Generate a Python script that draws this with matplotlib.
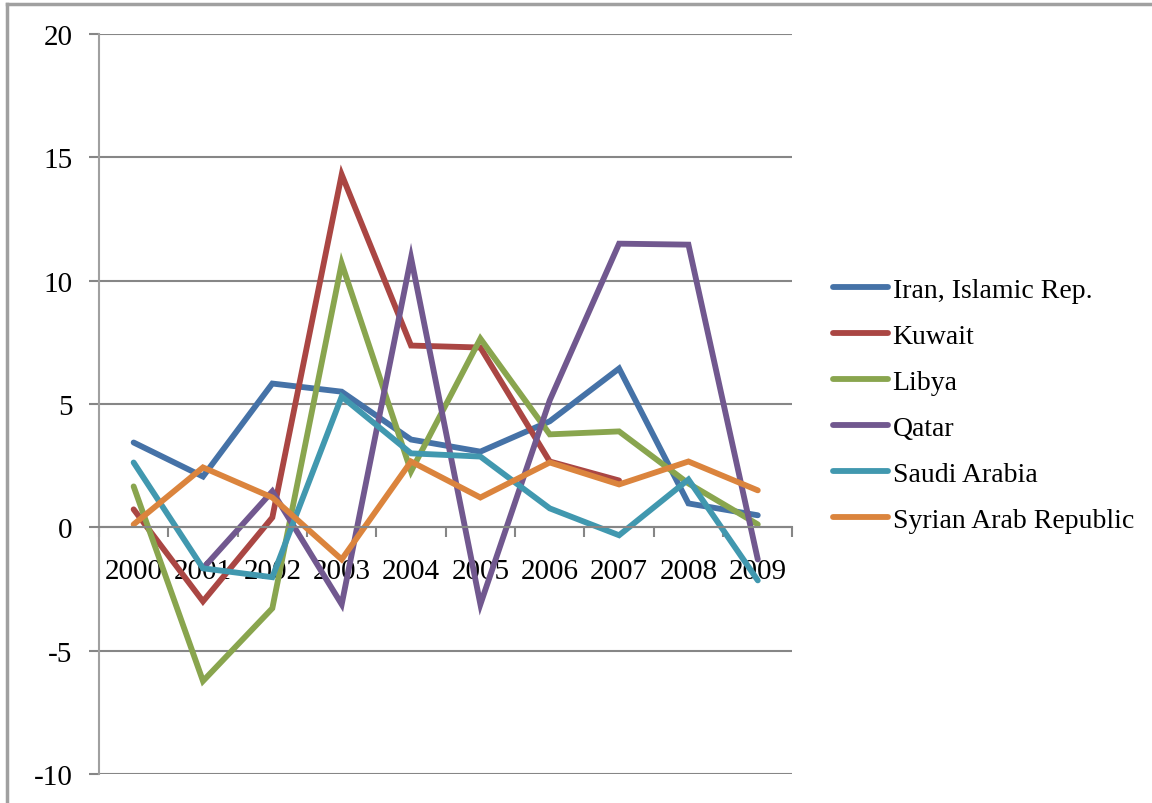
import numpy as np
import matplotlib
matplotlib.use('Agg')
import matplotlib.pyplot as plt
from matplotlib.lines import Line2D

years = ['2000', '2001', '2002', '2003', '2004', '2005', '2006', '2007', '2008', '2009']
nan = np.nan

iran = [3.44, 2.06, 5.83, 5.50, 3.56, 3.07, 4.30, 6.44, 0.97, 0.49]
kuwait = [0.73, -3.00, 0.40, 14.30, 7.37, 7.29, 2.67, 1.90, nan, nan]
libya = [1.66, -6.23, -3.28, 10.70, 2.27, 7.65, 3.77, 3.89, 1.78, 0.12]
qatar = [nan, -1.66, 1.46, -3.12, 10.93, -3.12, 5.15, 11.50, 11.46, -1.30]
saudi = [2.63, -1.66, -2.02, 5.30, 3.00, 2.87, 0.77, -0.32, 1.94, -2.15]
syria = [0.12, 2.43, 1.21, -1.30, 2.67, 1.21, 2.63, 1.74, 2.67, 1.50]

names = ['Iran, Islamic Rep.', 'Kuwait', 'Libya', 'Qatar', 'Saudi Arabia', 'Syrian Arab Republic']
series = [iran, kuwait, libya, qatar, saudi, syria]
colors = ['#4572A7', '#AA4643', '#89A54E', '#71588F', '#4198AF', '#DB843D']

plt.rcParams['font.family'] = ['Liberation Serif', 'DejaVu Serif']
plt.rcParams['axes.unicode_minus'] = False

fig = plt.figure(figsize=(11.52, 8.04), dpi=100)
ax = fig.add_axes([0.0859, 0.036, 0.602, 0.9205])

x = np.arange(len(years))
for vals, name, c in zip(series, names, colors):
    ax.plot(x, vals, color=c, lw=4.2, label=name, solid_capstyle='round', solid_joinstyle='miter')

ax.set_ylim(-10, 20)
ax.set_xlim(-0.5, len(years) - 0.5)
ax.set_yticks(np.arange(-10, 21, 5))
ax.yaxis.grid(True, color='#868686', lw=1.5)
ax.set_axisbelow(True)

# category boundaries as tick marks, labels at the centres
ax.set_xticks(np.arange(-0.5, len(years), 1))
ax.set_xticklabels([])
ax.set_xticks(x, minor=True)
ax.set_xticklabels(years, minor=True)
ax.tick_params(axis='x', which='major', direction='out', length=7, color='#868686', width=1.5)
ax.tick_params(axis='x', which='minor', length=0, pad=22, labelsize=21)
ax.tick_params(axis='y', direction='out', length=7, color='#868686', width=1.5, labelsize=21, pad=12)

for s in ['top', 'right']:
    ax.spines[s].set_visible(False)
ax.spines['bottom'].set_position(('data', 0))
ax.spines['bottom'].set_color('#868686')
ax.spines['bottom'].set_linewidth(1.5)
ax.spines['left'].set_color('#A0A0A0')
ax.spines['left'].set_linewidth(1.5)

leg = ax.legend(loc='center left', bbox_to_anchor=(1.059, 0.4986), frameon=False,
                fontsize=20, handlelength=1.95, handletextpad=0.18, labelspacing=0.74,
                borderpad=0, borderaxespad=0)

# chart area border (only left/top visible in the crop)
fig.add_artist(Line2D([0.0065, 0.0065], [0.0, 0.9935], color='#A0A0A0', lw=2.5, transform=fig.transFigure))
fig.add_artist(Line2D([0.0065, 1.0], [0.9935, 0.9935], color='#A0A0A0', lw=2.5, transform=fig.transFigure))

fig.savefig('out.png', dpi=100)
